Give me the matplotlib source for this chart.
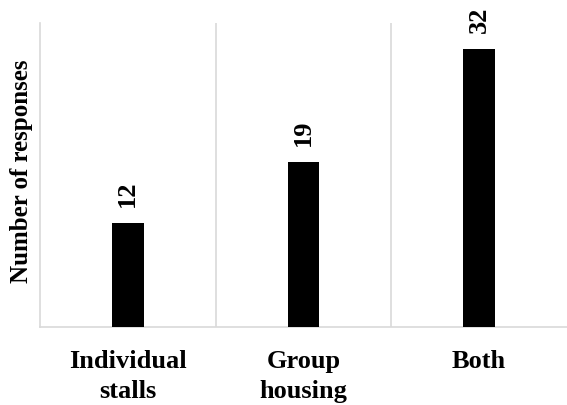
import numpy as np
import matplotlib.pyplot as plt
from matplotlib.ticker import FixedLocator

# data
categories = ['Individual\nstalls', 'Group\nhousing', 'Both']
responses = [12, 19, 32]

plt.rcParams['font.family'] = ['Liberation Serif', 'DejaVu Serif']
plt.rcParams['font.weight'] = 'bold'

fig = plt.figure(figsize=(5.67, 4.06), dpi=100)
ax = fig.add_axes([40 / 567, 78 / 406, 527 / 567, 304 / 406])

x = np.arange(len(categories))
bars = ax.bar(x, responses, width=0.18, color='black', zorder=3)

# value labels above bars, rotated
for xi, v in zip(x, responses):
    ax.annotate(str(v), (xi, v), xytext=(0, 12), textcoords='offset points',
                rotation=90, ha='center', va='bottom', fontsize=19, fontweight='bold')

ax.set_xlim(-0.5, len(categories) - 0.5)
ax.set_ylim(0, 35)

# light vertical separators between categories
ax.xaxis.set_minor_locator(FixedLocator(x[:-1] + 0.5))
ax.grid(True, which='minor', axis='x', color='#d9d9d9', linewidth=1.2, zorder=0)
ax.tick_params(axis='x', which='both', length=0)

ax.set_xticks(x)
ax.set_xticklabels(categories, fontsize=19, fontweight='bold', linespacing=1.38)
ax.tick_params(axis='x', pad=16)
ax.set_yticks([])

for side in ['top', 'right']:
    ax.spines[side].set_visible(False)
for side in ['left', 'bottom']:
    ax.spines[side].set_color('#d9d9d9')
    ax.spines[side].set_linewidth(1.2)

ax.set_ylabel('Number of responses', fontsize=18, fontweight='bold')
ax.yaxis.set_label_coords(-0.013, 0.516)

fig.savefig('out.png', dpi=100)
